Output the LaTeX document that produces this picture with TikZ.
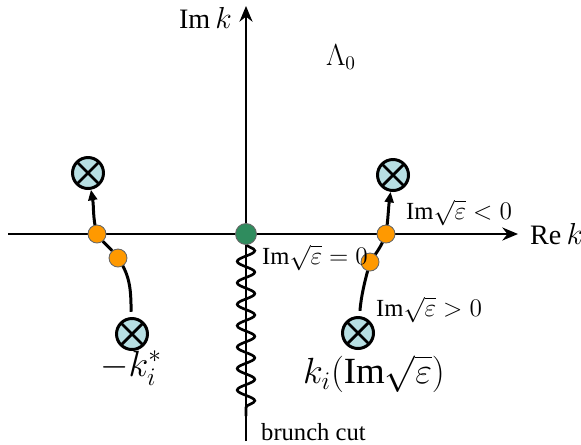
\documentclass[tikz,border=0pt]{standalone}
\usepackage{fontspec}
\setmainfont{Liberation Serif}
\usetikzlibrary{positioning,arrows.meta,decorations.pathmorphing}
\definecolor{PoleBlue}{RGB}{183,223,227}
\definecolor{DotOrange}{RGB}{255,153,0}
\definecolor{DotGreen}{RGB}{47,140,94}

\begin{document}
\begin{tikzpicture}[x=0.02cm, y=-0.02cm, font=\fontsize{14}{16}\selectfont]
\tikzset{
  pole/.style={circle, draw, line width=1.7pt, fill=PoleBlue, minimum size=0.62cm, inner sep=0pt,
    path picture={\draw[line width=1.6pt] (path picture bounding box.north west) -- (path picture bounding box.south east)
      (path picture bounding box.north east) -- (path picture bounding box.south west);}},
  odot/.style={circle, draw=black!60, line width=0.5pt, fill=DotOrange, minimum size=0.36cm, inner sep=0pt},
  gdot/.style={circle, draw=black!60, line width=0.5pt, fill=DotGreen, minimum size=0.42cm, inner sep=0pt},
  axisline/.style={-{Stealth[length=9pt,width=7.5pt,inset=3pt]}, line width=0.8pt},
  track/.style={-{Triangle[length=6pt,width=5pt]}, line width=1.7pt},
  cutline/.style={line width=1.5pt, decorate, decoration={snake, amplitude=5pt, segment length=12.2pt}},
  biglabel/.style={font=\fontsize{21}{24}\selectfont, inner sep=0pt},
  axlabel/.style={font=\fontsize{16}{18}\selectfont}
}
\useasboundingbox (0,0) rectangle (581,444);

% axes
\coordinate (xl) at (8,234);
\coordinate (xr) at (518,234);
\coordinate (yb) at (246,441);
\coordinate (yt) at (246,6);
\draw[axisline] (xl) -- (xr);
\draw[axisline] (yb) -- (yt);
\node[axlabel, anchor=west] (rek) at (524,234) {Re$\,k$};
\node[axlabel, anchor=east] (imk) at (238,18) {Im$\,k$};
\node[axlabel] (lam) at (341,57) {$\Lambda_0$};

% branch cut
\coordinate (cs) at (246,244);
\coordinate (ce) at (246,416);
\draw[cutline] (cs) -- (ce);
\node[anchor=west] (cutlbl) at (255,432) {brunch cut};

% poles
\node[pole] (lt) at (88,173) {};
\node[pole] (lb) at (132,334) {};
\node[pole] (rt) at (393,175) {};
\node[pole] (rb) at (358,333) {};

% crossing points
\coordinate (la) at (97,234);
\coordinate (lc) at (118,258);
\coordinate (ra) at (386,234);
\coordinate (rc) at (370,262);

\draw[track, shorten <=3pt] (lb) to[out=92,in=-55] (lc) to[out=125,in=-55] (la) to[out=105,in=-80] (lt);
\draw[track, shorten <=3pt] (rb) to[out=85,in=-105] (rc) to[out=55,in=-110] (ra) to[out=82,in=-98] (rt);

\node[odot] (pa) at (la) {};
\node[odot] (pc) at (lc) {};
\node[odot] (qa) at (ra) {};
\node[odot] (qc) at (rc) {};
\node[gdot] (orig) at (246,234) {};

% labels
\node[anchor=west] (lzero) at (256,258) {$\mathrm{Im}\sqrt{\varepsilon}=0$};
\node[anchor=west] (lneg) at (400,213) {$\mathrm{Im}\sqrt{\varepsilon}<0$};
\node[anchor=west] (lpos) at (370,310) {$\mathrm{Im}\sqrt{\varepsilon}>0$};
\node[biglabel] (kl) at (374,374) {$k_i(\mathrm{Im}\sqrt{\varepsilon})$};
\node[biglabel] (kstar) at (131,368) {$-k_i^*$};
\end{tikzpicture}
\end{document}
